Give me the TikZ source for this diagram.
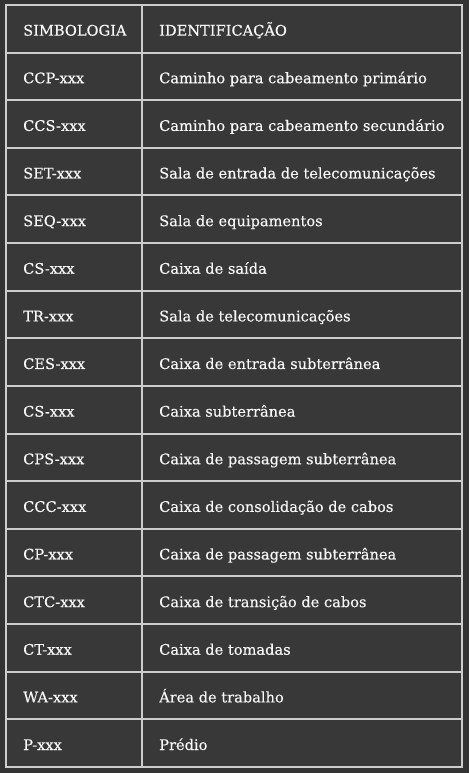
\documentclass[tikz,border=0pt]{standalone}
\usepackage{fontspec}
\setmainfont[FakeBold=0.35]{DejaVu Serif}
\definecolor{bgdark}{HTML}{333333}
\definecolor{celldark}{HTML}{383838}
\definecolor{gridgray}{HTML}{CDCDCD}
\definecolor{textlight}{HTML}{F7F7F7}
\tikzset{
  gridline/.style={gridgray, line width=2pt},
  celltext/.style={anchor=base west, inner sep=0pt, text=textlight,
    font=\fontsize{14.6}{17}\selectfont}
}
\begin{document}
\begin{tikzpicture}[x=1pt,y=1pt]
\fill[bgdark] (0,0) rectangle (469,773);
\useasboundingbox (0,0) rectangle (469,773);
\fill[celldark] (6,6) rectangle (462,768);
% table rows
\foreach \sym/\ident [count=\r] in {
    SIMBOLOGIA/IDENTIFICAÇÃO,
    CCP-xxx/Caminho para cabeamento primário,
    CCS-xxx/Caminho para cabeamento secundário,
    SET-xxx/Sala de entrada de telecomunicações,
    SEQ-xxx/Sala de equipamentos,
    CS-xxx/Caixa de saída,
    TR-xxx/Sala de telecomunicações,
    CES-xxx/Caixa de entrada subterrânea,
    CS-xxx/Caixa subterrânea,
    CPS-xxx/Caixa de passagem subterrânea,
    CCC-xxx/Caixa de consolidação de cabos,
    CP-xxx/Caixa de passagem subterrânea,
    CTC-xxx/Caixa de transição de cabos,
    CT-xxx/Caixa de tomadas,
    WA-xxx/Área de trabalho,
    P-xxx/Prédio}
{
  \node[celltext] (sym\r) at (23, 768-\r*47.625+17) {\sym};
  \node[celltext] (id\r) at (159, 768-\r*47.625+17) {\ident};
}
% grid
\foreach \r in {1,...,15}
  \draw[gridline] (6,768-\r*47.625) -- (462,768-\r*47.625);
\draw[gridline] (142,6) -- (142,768);
\draw[gridline] (6,6) rectangle (462,768);
\end{tikzpicture}
\end{document}
